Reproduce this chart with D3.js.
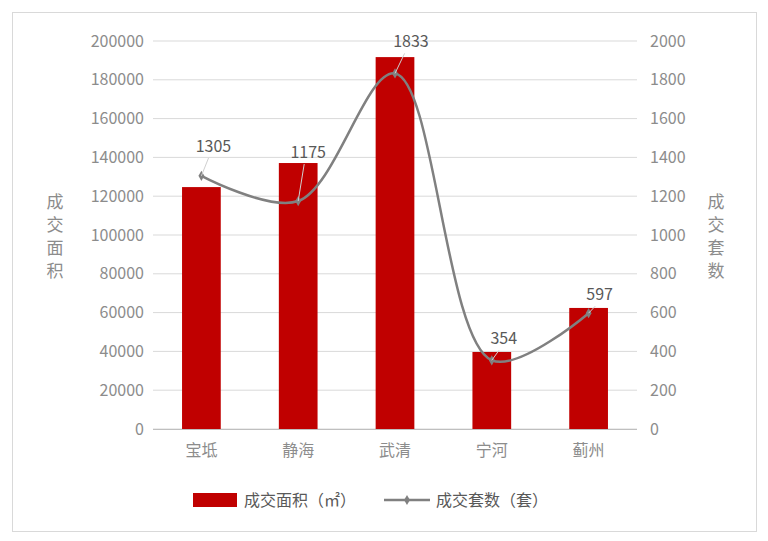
<!DOCTYPE html><html><head><meta charset="utf-8"><script src="https://cdn.jsdelivr.net/npm/d3@7"></script>
<style>body{margin:0;background:#fff}text{font-family:"Microsoft YaHei","Noto Sans CJK SC",sans-serif}</style></head><body>
<svg id="c" width="768" height="541"></svg>
<script>
const categories=["宝坻","静海","武清","宁河","蓟州"];
const areaValues=[124700,137100,191700,39700,62400];
const unitValues=[1305,1175,1833,354,597];
const leftTicks=[0,20000,40000,60000,80000,100000,120000,140000,160000,180000,200000];
const rightTicks=[0,200,400,600,800,1000,1200,1400,1600,1800,2000];
const labelOffsets=[[12,-24],[10,-43],[16,-26],[12,-16],[11,-13]];
const svg=d3.select("#c");
svg.append("rect").attr("x",12.5).attr("y",12.5).attr("width",744).attr("height",519).attr("fill","#fff").attr("stroke","#d9d9d9");
const x=d3.scaleBand().domain(categories).range([153,637]).paddingInner(0.6).paddingOuter(0.3);
const yL=d3.scaleLinear().domain([0,200000]).range([429,41]);
const yR=d3.scaleLinear().domain([0,2000]).range([429,41]);
const grid=svg.append("g");
leftTicks.forEach(t=>grid.append("line").attr("x1",153).attr("x2",637).attr("y1",yL(t)).attr("y2",yL(t)).attr("stroke","#d9d9d9"));
const axL=svg.append("g").attr("transform","translate(150,0)").call(d3.axisLeft(yL).tickValues(leftTicks).tickSize(0).tickPadding(6).tickFormat(d3.format("d")));
const axR=svg.append("g").attr("transform","translate(640,0)").call(d3.axisRight(yR).tickValues(rightTicks).tickSize(0).tickPadding(10).tickFormat(d3.format("d")));
const axB=svg.append("g").attr("transform","translate(0,429)").call(d3.axisBottom(x).tickSize(0).tickPadding(16));
[axL,axR,axB].forEach(a=>{a.select(".domain").remove();a.selectAll("text").attr("fill","#8c8c8c").style("font-size","16px");});
svg.append("line").attr("x1",153).attr("x2",637).attr("y1",429.5).attr("y2",429.5).attr("stroke","#bfbfbf");
svg.selectAll(".bar").data(areaValues).join("rect").attr("fill","#c00000")
 .attr("x",(d,i)=>x(categories[i])).attr("width",x.bandwidth()).attr("y",d=>yL(d)).attr("height",d=>429-yL(d));
const pts=unitValues.map((v,i)=>[x(categories[i])+x.bandwidth()/2,yR(v)]);
svg.append("path").attr("d",d3.line().curve(d3.curveCatmullRom.alpha(0.5))(pts)).attr("fill","none").attr("stroke","#808080").attr("stroke-width",2.5);
svg.selectAll(".pt").data(pts).join("path").attr("d",d3.symbol(d3.symbolDiamond,30)).attr("transform",d=>`translate(${d[0]},${d[1]})`).attr("fill","#808080");
pts.forEach((p,i)=>{const o=labelOffsets[i];
 svg.append("line").attr("x1",p[0]).attr("y1",p[1]).attr("x2",p[0]+o[0]*0.6).attr("y2",p[1]+o[1]+6).attr("stroke","#d0d0d0");
 svg.append("text").attr("x",p[0]+o[0]).attr("y",p[1]+o[1]).attr("text-anchor","middle").attr("fill","#595959").style("font-size","16px").text(unitValues[i]);});
function vtitle(xp,str){const t=svg.append("text").attr("fill","#8c8c8c").style("font-size","17px").attr("text-anchor","middle");
 [...str].forEach((c,i)=>t.append("tspan").attr("x",xp).attr("y",208+i*23).text(c));}
vtitle(55,"成交面积");vtitle(716,"成交套数");
svg.append("rect").attr("x",193).attr("y",493).attr("width",44).attr("height",14).attr("fill","#c00000");
svg.append("text").attr("x",244).attr("y",506).attr("fill","#595959").style("font-size","16px").text("成交面积（㎡）");
svg.append("line").attr("x1",384).attr("x2",430).attr("y1",500).attr("y2",500).attr("stroke","#808080").attr("stroke-width",2.5);
svg.append("path").attr("d",d3.symbol(d3.symbolDiamond,30)).attr("transform","translate(407,500)").attr("fill","#808080");
svg.append("text").attr("x",436).attr("y",506).attr("fill","#595959").style("font-size","16px").text("成交套数（套）");
</script></body></html>
